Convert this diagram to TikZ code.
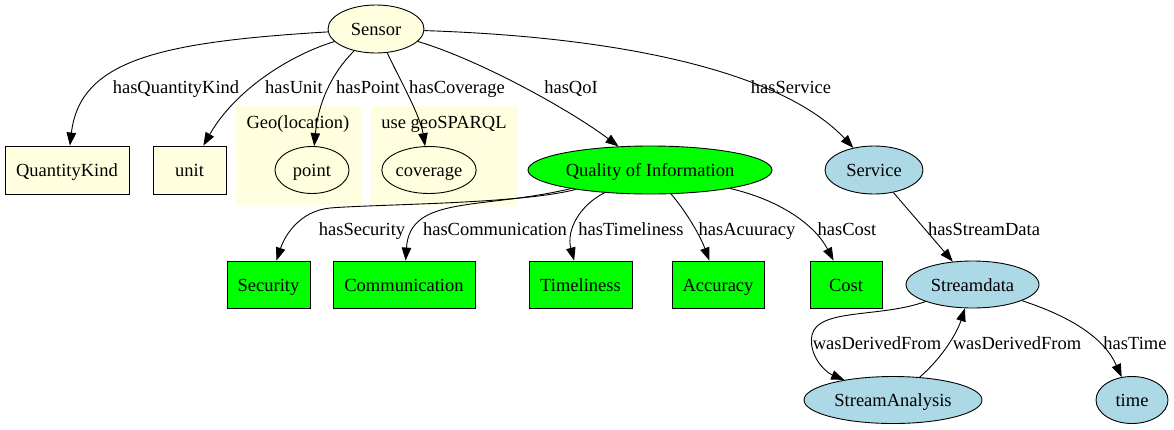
\documentclass[tikz,border=0pt]{standalone}
\usepackage{fontspec}
\setmainfont{Liberation Serif}
\usetikzlibrary{shapes.geometric,arrows.meta}
\definecolor{lyellow}{HTML}{FFFFE0}
\definecolor{lblue}{HTML}{ADD8E6}
\definecolor{brightgreen}{HTML}{00FF00}
\tikzstyle{yellowbox} = [rectangle, minimum height=48pt, text centered, draw=black, fill=lyellow]
\tikzstyle{yellowell} = [ellipse, minimum height=47pt, text centered, draw=black, fill=lyellow]
\tikzstyle{greenbox} = [rectangle, minimum height=47pt, text centered, draw=black, fill=brightgreen]
\tikzstyle{greenell} = [ellipse, minimum height=48pt, text centered, draw=black, fill=brightgreen]
\tikzstyle{blueell} = [ellipse, minimum height=47pt, text centered, draw=black, fill=lblue]
\tikzstyle{cluster} = [rectangle, fill=lyellow, draw=none]
\tikzstyle{arrow} = [line width=0.9pt, -{Triangle[length=13pt,width=9.5pt]}]

\begin{document}
\begin{tikzpicture}[x=1pt, y=-1pt, line width=0.9pt,
    every node/.style={font=\fontsize{18.5}{22}\selectfont, inner sep=0pt, text height=15pt, text depth=2pt}]
        \useasboundingbox [fill=white] (0,0) rectangle (1174,429);
        \node (geo) [cluster, minimum width=125pt, minimum height=99pt] at (298.5,155.5) {};
        \node (geosparql) [cluster, minimum width=147pt, minimum height=99pt] at (444.5,155.5) {};
        \node (geolbl) at (298,122) {Geo(location)};
        \node (geosparqllbl) at (444,122) {use geoSPARQL};

        \node (sensor) [yellowell, minimum width=96pt, minimum height=48pt] at (376,29) {Sensor};
        \node (qk) [yellowbox, minimum width=124pt] at (67,170) {QuantityKind};
        \node (unit) [yellowbox, minimum width=73pt] at (189.5,170) {unit};
        \node (point) [yellowell, minimum width=74pt] at (312,170) {point};
        \node (coverage) [yellowell, minimum width=94pt] at (429,170) {coverage};
        \node (qoi) [greenell, minimum width=244pt] at (650,170) {Quality of Information};
        \node (service) [blueell, minimum width=98pt, minimum height=48pt] at (874,170) {Service};

        \node (security) [greenbox, minimum width=83pt] at (268.5,284.5) {Security};
        \node (communication) [greenbox, minimum width=142pt] at (404,284.5) {Communication};
        \node (timeliness) [greenbox, minimum width=103pt] at (580.5,284.5) {Timeliness};
        \node (accuracy) [greenbox, minimum width=92pt] at (718,284.5) {Accuracy};
        \node (cost) [greenbox, minimum width=72pt] at (846,284.5) {Cost};
        \node (streamdata) [blueell, minimum width=133pt] at (972.5,284.5) {Streamdata};
        \node (streamanalysis) [blueell, minimum width=178pt] at (893,400) {StreamAnalysis};
        \node (time) [blueell, minimum width=72pt] at (1132,400) {time};

        \draw [arrow] (sensor) .. controls (160,42) and (80,60) .. (qk);
        \draw [arrow] (sensor) .. controls (290,55) and (235,90) .. (unit);
        \draw [arrow] (sensor) .. controls (330,75) and (318,105) .. (point);
        \draw [arrow] (sensor) .. controls (400,80) and (420,115) .. (coverage);
        \draw [arrow] (sensor) .. controls (480,60) and (570,110) .. (qoi);
        \draw [arrow] (sensor) .. controls (650,38) and (790,80) .. (service);
        \draw [arrow] (qoi) .. controls (520,204) and (380,204) .. (330,208) .. controls (300,211) and (285,235) .. (security);
        \draw [arrow] (qoi) .. controls (480,210) and (410,195) .. (communication);
        \draw [arrow] (qoi) .. controls (580,205) and (566,230) .. (timeliness);
        \draw [arrow] (qoi) .. controls (685,210) and (700,235) .. (accuracy);
        \draw [arrow] (qoi) .. controls (780,200) and (815,225) .. (cost);
        \draw [arrow] (service) -- (streamdata);
        \draw [arrow] (streamdata) .. controls (880,318) and (818,308) .. (812,335) .. controls (808,355) and (825,372) .. (streamanalysis);
        \draw [arrow] (streamanalysis) .. controls (942,358) and (957,333) .. (streamdata);
        \draw [arrow] (streamdata) .. controls (1075,318) and (1105,340) .. (time);

        \node (lqk) at (176,87) {hasQuantityKind};
        \node (lunit) at (294,87) {hasUnit};
        \node (lpoint) at (368,87) {hasPoint};
        \node (lcoverage) at (457,87) {hasCoverage};
        \node (lqoi) at (571,87) {hasQoI};
        \node (lservice) at (791,87) {hasService};
        \node (lsecurity) at (362,229) {hasSecurity};
        \node (lcommunication) at (495,229) {hasCommunication};
        \node (ltimeliness) at (631,229) {hasTimeliness};
        \node (laccuracy) at (747,229) {hasAcuuracy};
        \node (lcost) at (847,229) {hasCost};
        \node (lstreamdata) at (984,229) {hasStreamData};
        \node (lderived1) at (877,343) {wasDerivedFrom};
        \node (lderived2) at (1017,343) {wasDerivedFrom};
        \node (ltime) at (1135,343) {hasTime};
    \end{tikzpicture}
\end{document}
